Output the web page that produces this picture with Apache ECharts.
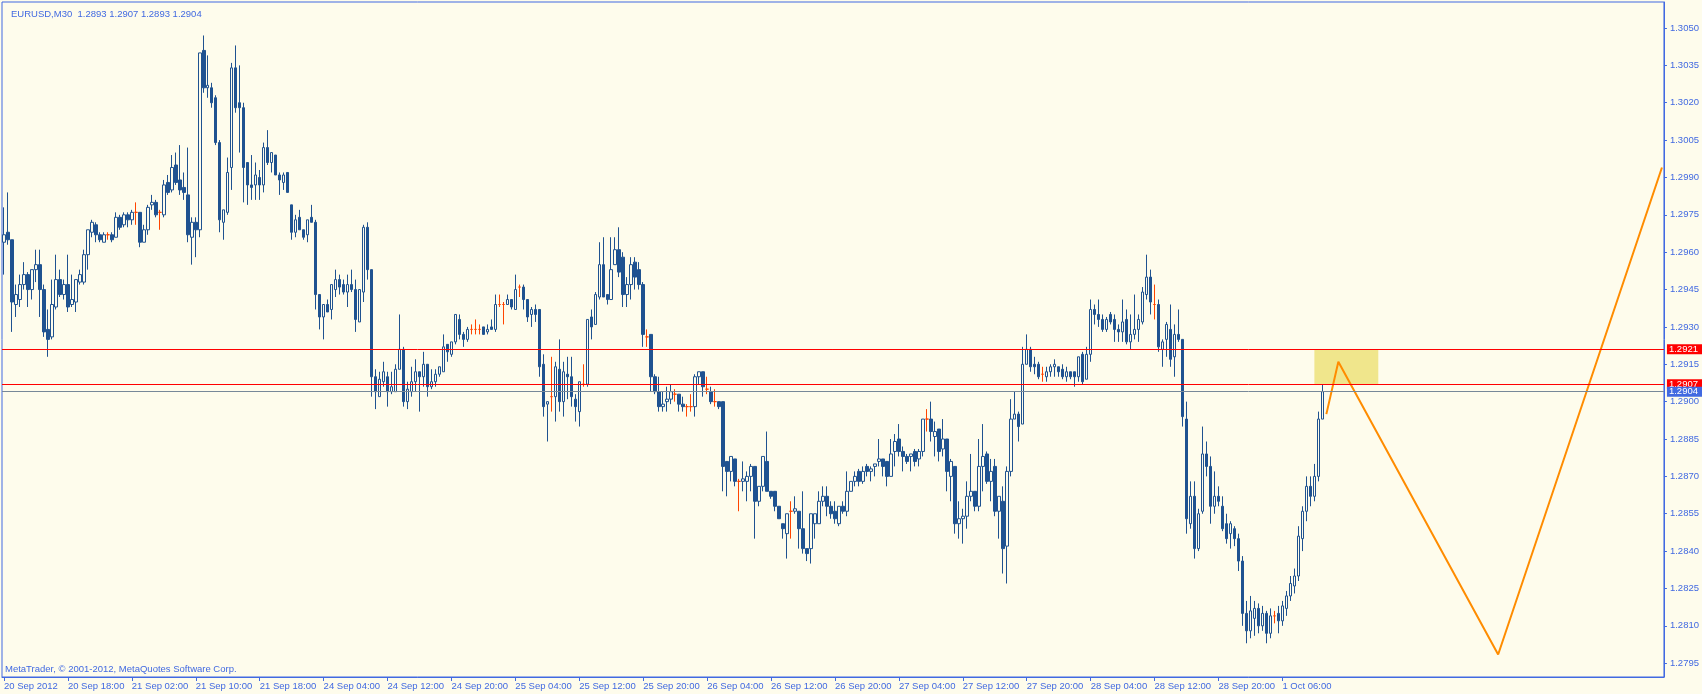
<!DOCTYPE html>
<html><head><meta charset="utf-8">
<script src="https://cdn.jsdelivr.net/npm/echarts@6/dist/echarts.min.js"></script>
<style>html,body{margin:0;padding:0;background:#fefcec;}#c{width:1702px;height:694px;}</style>
</head><body><div id="c"></div>
<script>
// ---- data ----
const titleText = 'EURUSD,M30  1.2893 1.2907 1.2893 1.2904';
const footerText = 'MetaTrader, \u00a9 2001-2012, MetaQuotes Software Corp.';
const timeLabels = ['20 Sep 2012','20 Sep 18:00','21 Sep 02:00','21 Sep 10:00','21 Sep 18:00','24 Sep 04:00','24 Sep 12:00','24 Sep 20:00','25 Sep 04:00','25 Sep 12:00','25 Sep 20:00','26 Sep 04:00','26 Sep 12:00','26 Sep 20:00','27 Sep 04:00','27 Sep 12:00','27 Sep 20:00','28 Sep 04:00','28 Sep 12:00','28 Sep 20:00','1 Oct 06:00'];
const priceTicks = [1.2795,1.2810,1.2825,1.2840,1.2855,1.2870,1.2885,1.2900,1.2915,1.2930,1.2945,1.2960,1.2975,1.2990,1.3005,1.3020,1.3035,1.3050];
const opens = [
1.2964,1.2968,1.2965,1.2939,1.2941,1.2947,1.2951,1.2945,1.2953,1.2955,
1.2945,1.2929,1.2926,1.2938,1.2949,1.2943,1.2947,1.2939,1.2940,1.2948,
1.2948,1.2959,1.2968,1.2971,1.2967,1.2964,1.2967,1.2967,1.2966,1.2974,
1.2971,1.2975,1.2973,1.2976,1.2976,1.2964,1.2969,1.2979,1.2980,1.2976,
1.2975,1.2988,1.2985,1.2995,1.2989,1.2986,1.2983,1.2966,1.2972,1.2969,
1.3041,1.3026,1.3026,1.3022,1.3004,1.2972,1.2976,1.2994,1.3034,1.3020,
1.3018,1.2996,1.2987,1.2987,1.2990,1.2987,1.3002,1.2996,1.2999,1.2991,
1.2988,1.2992,1.2979,1.2968,1.2974,1.2969,1.2967,1.2974,1.2972,1.2943,
1.2934,1.2939,1.2937,1.2945,1.2949,1.2947,1.2944,1.2947,1.2945,1.2932,
1.2944,1.2970,1.2953,1.2910,1.2902,1.2908,1.2910,1.2904,1.2904,1.2913,
1.2921,1.2900,1.2904,1.2908,1.2912,1.2910,1.2915,1.2906,1.2908,1.2911,
1.2912,1.2923,1.2919,1.2924,1.2933,1.2927,1.2925,1.2929,1.2929,1.2929,
1.2930,1.2928,1.2930,1.2929,1.2939,1.2939,1.2939,1.2941,1.2937,1.2946,
1.2946,1.2941,1.2935,1.2937,1.2937,1.2915,1.2899,1.2902,1.2902,1.2913,
1.2900,1.2911,1.2910,1.2901,1.2896,1.2907,1.2907,1.2934,1.2931,1.2942,
1.2955,1.2943,1.2941,1.2955,1.2961,1.2958,1.2943,1.2947,1.2956,1.2953,
1.2947,1.2926,1.2927,1.2910,1.2904,1.2898,1.2900,1.2901,1.2903,1.2903,
1.2899,1.2898,1.2898,1.2898,1.2910,1.2912,1.2905,1.2904,1.2900,1.2900,
1.2900,1.2876,1.2872,1.2877,1.2868,1.2868,1.2868,1.2870,1.2874,1.2860,
1.2866,1.2876,1.2864,1.2864,1.2858,1.2851,1.2847,1.2856,1.2856,1.2856,
1.2849,1.2841,1.2841,1.2851,1.2851,1.2860,1.2862,1.2858,1.2856,1.2851,
1.2858,1.2856,1.2864,1.2868,1.2872,1.2868,1.2874,1.2872,1.2874,1.2876,
1.2877,1.2876,1.2870,1.2880,1.2885,1.2880,1.2878,1.2878,1.2880,1.2877,
1.2880,1.2893,1.2893,1.2886,1.2889,1.2881,1.2885,1.2870,1.2874,1.2851,
1.2853,1.2854,1.2862,1.2864,1.2858,1.2874,1.2879,1.2868,1.2874,1.2856,
1.2860,1.2842,1.2872,1.2893,1.2895,1.2891,1.2915,1.2921,1.2915,1.2915,
1.2911,1.2910,1.2912,1.2914,1.2914,1.2913,1.2910,1.2912,1.2912,1.2910,
1.2919,1.2909,1.2919,1.2937,1.2935,1.2933,1.2929,1.2935,1.2933,1.2929,
1.2928,1.2933,1.2924,1.2927,1.2929,1.2932,1.2943,1.2950,1.2939,1.2939,
1.2921,1.2925,1.2929,1.2918,1.2927,1.2925,1.2893,1.2851,1.2862,1.2841,
1.2856,1.2879,1.2874,1.2858,1.2862,1.2858,1.2851,1.2847,1.2849,1.2845,
1.2836,1.2815,1.2808,1.2813,1.2817,1.2810,1.2815,1.2807,1.2814,1.2815,
1.2812,1.2817,1.2822,1.2826,1.2830,1.2845,1.2856,1.2866,1.2862,1.2870,1.2893];
const highs = [
1.2978,1.2984,1.2965,1.2947,1.2951,1.2956,1.2952,1.2953,1.2961,1.2961,
1.2947,1.2937,1.2949,1.2959,1.2953,1.2949,1.2959,1.2951,1.2949,1.2953,
1.2961,1.2969,1.2973,1.2972,1.2968,1.2968,1.2968,1.2968,1.2976,1.2975,
1.2976,1.2976,1.2977,1.2980,1.2976,1.2971,1.2979,1.2983,1.2981,1.2977,
1.2989,1.2991,1.2999,1.3000,1.3003,1.2992,1.3002,1.2974,1.2974,1.3040,
1.3047,1.3039,1.3028,1.3023,1.3005,1.2977,1.2998,1.3036,1.3043,1.3035,
1.3020,1.2996,1.2999,1.2996,1.2993,1.3004,1.3009,1.3000,1.2999,1.2992,
1.2992,1.2992,1.2979,1.2975,1.2977,1.2969,1.2973,1.2979,1.2973,1.2943,
1.2939,1.2941,1.2947,1.2953,1.2951,1.2949,1.2951,1.2953,1.2949,1.2945,
1.2971,1.2972,1.2953,1.2913,1.2912,1.2916,1.2912,1.2912,1.2915,1.2935,
1.2922,1.2908,1.2914,1.2917,1.2912,1.2920,1.2915,1.2913,1.2913,1.2914,
1.2927,1.2923,1.2924,1.2935,1.2935,1.2928,1.2930,1.2931,1.2933,1.2931,
1.2930,1.2931,1.2933,1.2943,1.2943,1.2940,1.2943,1.2941,1.2951,1.2947,
1.2947,1.2941,1.2938,1.2939,1.2937,1.2919,1.2900,1.2918,1.2916,1.2925,
1.2916,1.2918,1.2918,1.2903,1.2908,1.2915,1.2933,1.2937,1.2944,1.2964,
1.2966,1.2943,1.2966,1.2966,1.2970,1.2960,1.2950,1.2958,1.2958,1.2956,
1.2948,1.2929,1.2927,1.2911,1.2910,1.2904,1.2906,1.2907,1.2905,1.2903,
1.2902,1.2899,1.2903,1.2911,1.2912,1.2912,1.2910,1.2906,1.2905,1.2900,
1.2900,1.2876,1.2878,1.2877,1.2869,1.2876,1.2872,1.2875,1.2874,1.2866,
1.2878,1.2888,1.2864,1.2864,1.2858,1.2851,1.2855,1.2860,1.2862,1.2856,
1.2864,1.2841,1.2855,1.2855,1.2864,1.2866,1.2866,1.2860,1.2860,1.2858,
1.2860,1.2872,1.2868,1.2872,1.2873,1.2874,1.2875,1.2874,1.2875,1.2885,
1.2877,1.2876,1.2885,1.2887,1.2891,1.2882,1.2879,1.2879,1.2881,1.2881,
1.2893,1.2897,1.2900,1.2892,1.2889,1.2893,1.2885,1.2877,1.2874,1.2860,
1.2857,1.2868,1.2879,1.2864,1.2885,1.2891,1.2880,1.2877,1.2877,1.2862,
1.2866,1.2874,1.2901,1.2904,1.2896,1.2922,1.2927,1.2922,1.2918,1.2916,
1.2914,1.2914,1.2915,1.2917,1.2914,1.2915,1.2914,1.2912,1.2912,1.2918,
1.2920,1.2922,1.2941,1.2939,1.2941,1.2935,1.2934,1.2936,1.2935,1.2931,
1.2941,1.2937,1.2935,1.2943,1.2935,1.2946,1.2959,1.2953,1.2947,1.2941,
1.2925,1.2932,1.2939,1.2931,1.2937,1.2925,1.2900,1.2868,1.2868,1.2857,
1.2890,1.2884,1.2878,1.2872,1.2866,1.2862,1.2855,1.2852,1.2850,1.2847,
1.2838,1.2820,1.2822,1.2820,1.2819,1.2818,1.2816,1.2817,1.2816,1.2818,
1.2820,1.2824,1.2830,1.2833,1.2850,1.2858,1.2870,1.2870,1.2875,1.2896,1.2907];
const lows = [
1.2951,1.2963,1.2928,1.2934,1.2938,1.2945,1.2938,1.2941,1.2948,1.2934,
1.2926,1.2918,1.2925,1.2937,1.2942,1.2941,1.2936,1.2938,1.2936,1.2947,
1.2947,1.2953,1.2966,1.2964,1.2964,1.2964,1.2965,1.2964,1.2966,1.2969,
1.2970,1.2970,1.2971,1.2971,1.2962,1.2964,1.2967,1.2977,1.2974,1.2969,
1.2974,1.2983,1.2984,1.2987,1.2983,1.2981,1.2964,1.2955,1.2958,1.2966,
1.3024,1.3022,1.3018,1.3003,1.2968,1.2965,1.2975,1.2985,1.3016,1.3000,
1.2980,1.2979,1.2981,1.2981,1.2981,1.2984,1.2995,1.2992,1.2991,1.2983,
1.2985,1.2984,1.2965,1.2966,1.2969,1.2965,1.2964,1.2972,1.2937,1.2929,
1.2925,1.2936,1.2933,1.2942,1.2943,1.2943,1.2938,1.2944,1.2928,1.2932,
1.2940,1.2949,1.2902,1.2897,1.2902,1.2906,1.2898,1.2903,1.2904,1.2913,
1.2898,1.2897,1.2902,1.2904,1.2896,1.2906,1.2902,1.2905,1.2906,1.2910,
1.2912,1.2916,1.2918,1.2923,1.2925,1.2922,1.2924,1.2927,1.2927,1.2927,
1.2927,1.2927,1.2929,1.2928,1.2938,1.2931,1.2939,1.2937,1.2937,1.2942,
1.2937,1.2932,1.2930,1.2932,1.2910,1.2894,1.2884,1.2896,1.2892,1.2896,
1.2894,1.2901,1.2898,1.2892,1.2890,1.2906,1.2906,1.2925,1.2931,1.2941,
1.2942,1.2939,1.2941,1.2955,1.2950,1.2938,1.2938,1.2941,1.2945,1.2945,
1.2922,1.2922,1.2904,1.2903,1.2896,1.2896,1.2896,1.2899,1.2900,1.2896,
1.2896,1.2894,1.2896,1.2894,1.2907,1.2902,1.2903,1.2899,1.2898,1.2897,
1.2864,1.2862,1.2868,1.2866,1.2856,1.2864,1.2860,1.2864,1.2845,1.2858,
1.2864,1.2864,1.2861,1.2856,1.2853,1.2845,1.2837,1.2845,1.2855,1.2841,
1.2839,1.2836,1.2835,1.2845,1.2851,1.2858,1.2854,1.2853,1.2851,1.2850,
1.2855,1.2854,1.2864,1.2866,1.2866,1.2867,1.2870,1.2868,1.2870,1.2874,
1.2870,1.2866,1.2870,1.2874,1.2878,1.2872,1.2875,1.2872,1.2874,1.2874,
1.2878,1.2888,1.2884,1.2878,1.2876,1.2878,1.2864,1.2860,1.2847,1.2845,
1.2843,1.2849,1.2860,1.2856,1.2856,1.2864,1.2867,1.2860,1.2854,1.2845,
1.2831,1.2827,1.2870,1.2893,1.2884,1.2891,1.2915,1.2912,1.2911,1.2909,
1.2908,1.2908,1.2910,1.2910,1.2910,1.2909,1.2908,1.2909,1.2906,1.2908,
1.2907,1.2909,1.2916,1.2931,1.2930,1.2928,1.2928,1.2931,1.2924,1.2924,
1.2924,1.2923,1.2921,1.2925,1.2924,1.2931,1.2941,1.2935,1.2933,1.2920,
1.2914,1.2918,1.2914,1.2910,1.2924,1.2890,1.2847,1.2849,1.2837,1.2840,
1.2855,1.2870,1.2851,1.2855,1.2858,1.2848,1.2843,1.2841,1.2842,1.2832,
1.2810,1.2803,1.2805,1.2806,1.2807,1.2808,1.2803,1.2805,1.2811,1.2807,
1.2810,1.2814,1.2820,1.2823,1.2828,1.2840,1.2852,1.2858,1.2860,1.2868,1.2893];
const closes = [
1.2967,1.2965,1.2940,1.2943,1.2947,1.2951,1.2945,1.2953,1.2955,1.2945,
1.2928,1.2925,1.2939,1.2949,1.2943,1.2947,1.2938,1.2941,1.2949,1.2951,
1.2959,1.2969,1.2972,1.2967,1.2965,1.2967,1.2967,1.2965,1.2974,1.2970,
1.2975,1.2973,1.2976,1.2976,1.2964,1.2969,1.2978,1.2980,1.2975,1.2976,
1.2987,1.2984,1.2994,1.2988,1.2985,1.2984,1.2967,1.2972,1.2969,1.3040,
1.3026,1.3027,1.3020,1.3004,1.2973,1.2977,1.2992,1.3034,1.3018,1.3018,
1.2994,1.2987,1.2986,1.2991,1.2987,1.3002,1.2996,1.3000,1.2991,1.2989,
1.2991,1.2984,1.2968,1.2973,1.2969,1.2966,1.2973,1.2972,1.2943,1.2934,
1.2939,1.2936,1.2947,1.2949,1.2946,1.2944,1.2947,1.2945,1.2933,1.2945,
1.2970,1.2953,1.2910,1.2904,1.2909,1.2912,1.2904,1.2906,1.2913,1.2921,
1.2900,1.2905,1.2908,1.2912,1.2910,1.2915,1.2906,1.2908,1.2911,1.2914,
1.2922,1.2920,1.2924,1.2935,1.2927,1.2925,1.2929,1.2929,1.2929,1.2929,
1.2927,1.2929,1.2929,1.2939,1.2939,1.2939,1.2941,1.2938,1.2945,1.2946,
1.2941,1.2934,1.2937,1.2935,1.2914,1.2898,1.2900,1.2902,1.2914,1.2900,
1.2912,1.2910,1.2902,1.2898,1.2908,1.2907,1.2933,1.2930,1.2943,1.2955,
1.2942,1.2941,1.2953,1.2961,1.2952,1.2943,1.2947,1.2955,1.2950,1.2947,
1.2927,1.2926,1.2910,1.2904,1.2898,1.2899,1.2901,1.2904,1.2903,1.2899,
1.2898,1.2898,1.2898,1.2910,1.2912,1.2906,1.2905,1.2900,1.2900,1.2898,
1.2874,1.2872,1.2878,1.2868,1.2868,1.2869,1.2870,1.2874,1.2860,1.2866,
1.2878,1.2864,1.2862,1.2858,1.2853,1.2849,1.2855,1.2856,1.2857,1.2849,
1.2841,1.2839,1.2855,1.2855,1.2860,1.2862,1.2858,1.2855,1.2853,1.2858,
1.2856,1.2864,1.2868,1.2870,1.2868,1.2872,1.2872,1.2873,1.2875,1.2877,
1.2874,1.2870,1.2879,1.2884,1.2880,1.2878,1.2876,1.2879,1.2876,1.2880,
1.2893,1.2893,1.2888,1.2888,1.2880,1.2885,1.2872,1.2876,1.2851,1.2853,
1.2854,1.2862,1.2864,1.2858,1.2874,1.2878,1.2868,1.2872,1.2856,1.2862,
1.2841,1.2872,1.2893,1.2895,1.2890,1.2915,1.2921,1.2914,1.2914,1.2910,
1.2911,1.2912,1.2914,1.2915,1.2912,1.2910,1.2912,1.2910,1.2910,1.2918,
1.2908,1.2919,1.2937,1.2935,1.2933,1.2929,1.2933,1.2932,1.2929,1.2928,
1.2932,1.2924,1.2927,1.2929,1.2933,1.2944,1.2950,1.2940,1.2939,1.2922,
1.2924,1.2931,1.2917,1.2927,1.2925,1.2894,1.2853,1.2862,1.2841,1.2855,
1.2879,1.2874,1.2858,1.2862,1.2860,1.2849,1.2845,1.2851,1.2845,1.2836,
1.2815,1.2808,1.2816,1.2817,1.2810,1.2815,1.2807,1.2814,1.2814,1.2812,
1.2818,1.2822,1.2827,1.2830,1.2846,1.2856,1.2866,1.2862,1.2870,1.2893,1.2904];
const levelLines = [1.2921, 1.2907];
const bidLevel = 1.2904;
const zoneIdx = [328, 344];
const zonePrices = [1.2921, 1.2907];
const zigzagIdx = [331, 334, 374, 415];
const zigzagPrices = [1.2895, 1.2916, 1.27985, 1.2994];
const categoryCount = 416;
const labelStep = 16;
const lastLabelIndex = 320;

// ---- styles ----
const BG = '#fefcec', FG = '#4169e1', CANDLE = '#1f5290', DOJI = '#ff4500';
const FONT = '"Liberation Sans", Arial, sans-serif';
const FS = 9.5;

const cats = Array.from({length: categoryCount}, (_, i) => String(i));
const showIdx = (i) => i % labelStep === 0 && i <= lastLabelIndex;
const candles = opens.map((o, i) => {
  const item = {value: [o, closes[i], lows[i], highs[i]]};
  if (o === closes[i]) item.itemStyle = {color: DOJI, color0: DOJI, borderColor: DOJI, borderColor0: DOJI, borderColorDoji: DOJI};
  return item;
});
const levelLabel = (bg, txt) => ({show: true, position: 'end', distance: 3, formatter: () => txt,
  color: '#ffffff', backgroundColor: bg, fontSize: FS, fontFamily: FONT, padding: [1, 12, 0, 2], lineHeight: 9});

const chart = echarts.init(document.getElementById('c'), null, {renderer: 'canvas'});
chart.setOption({
  backgroundColor: BG,
  animation: false,
  title: {text: titleText, left: 6, top: 4, textStyle: {color: FG, fontSize: FS, fontWeight: 'normal', fontFamily: FONT}},
  graphic: [{type: 'text', left: 5, top: 664, style: {text: footerText, fill: FG, font: FS + 'px ' + FONT}}],
  grid: {left: 2, right: 38, top: 2, bottom: 17, show: true, borderColor: FG, borderWidth: 1, backgroundColor: 'transparent'},
  xAxis: {
    type: 'category', data: cats, boundaryGap: true,
    axisLine: {show: true, lineStyle: {color: FG}},
    axisTick: {show: true, alignWithLabel: true, interval: showIdx, length: 4, lineStyle: {color: FG}},
    axisLabel: {interval: showIdx, formatter: (v, i) => timeLabels[i / labelStep], align: 'left', margin: 4,
      color: FG, fontSize: FS, fontFamily: FONT},
    splitLine: {show: false}
  },
  yAxis: {
    type: 'value', position: 'right', min: 1.278946, max: 1.306044, scale: true,
    axisLine: {show: true, lineStyle: {color: FG}},
    axisTick: {show: true, length: 3, customValues: priceTicks, lineStyle: {color: FG}},
    axisLabel: {customValues: priceTicks, formatter: (v) => v.toFixed(4), margin: 6, color: FG, fontSize: FS, fontFamily: FONT},
    splitLine: {show: false}
  },
  series: [
    {
      type: 'line', data: [], z: 1, silent: true,
      markArea: {silent: true, itemStyle: {color: '#f0e68c', opacity: 1},
        data: [[{xAxis: zoneIdx[0], yAxis: zonePrices[0]}, {xAxis: zoneIdx[1], yAxis: zonePrices[1]}]]},
      markLine: {silent: true, symbol: 'none', animation: false, precision: 4,
        data: [
          {yAxis: levelLines[0], lineStyle: {color: '#ff0000', width: 1, type: 'solid'}, label: levelLabel('#ff0000', levelLines[0].toFixed(4))},
          {yAxis: levelLines[1], lineStyle: {color: '#ff0000', width: 1, type: 'solid'}, label: levelLabel('#ff0000', levelLines[1].toFixed(4))},
          {yAxis: bidLevel, lineStyle: {color: '#778899', width: 1, type: 'solid'}, label: levelLabel(FG, bidLevel.toFixed(4))}
        ]}
    },
    {
      type: 'candlestick', data: candles, z: 2, barWidth: 3,
      itemStyle: {color: BG, color0: CANDLE, borderColor: CANDLE, borderColor0: CANDLE, borderColorDoji: DOJI, borderWidth: 1}
    },
    {
      type: 'line', z: 3, symbol: 'none', silent: true,
      data: zigzagIdx.map((x, i) => [x, zigzagPrices[i]]),
      lineStyle: {color: '#ff8c00', width: 2}
    }
  ]
});
</script>
</body></html>
